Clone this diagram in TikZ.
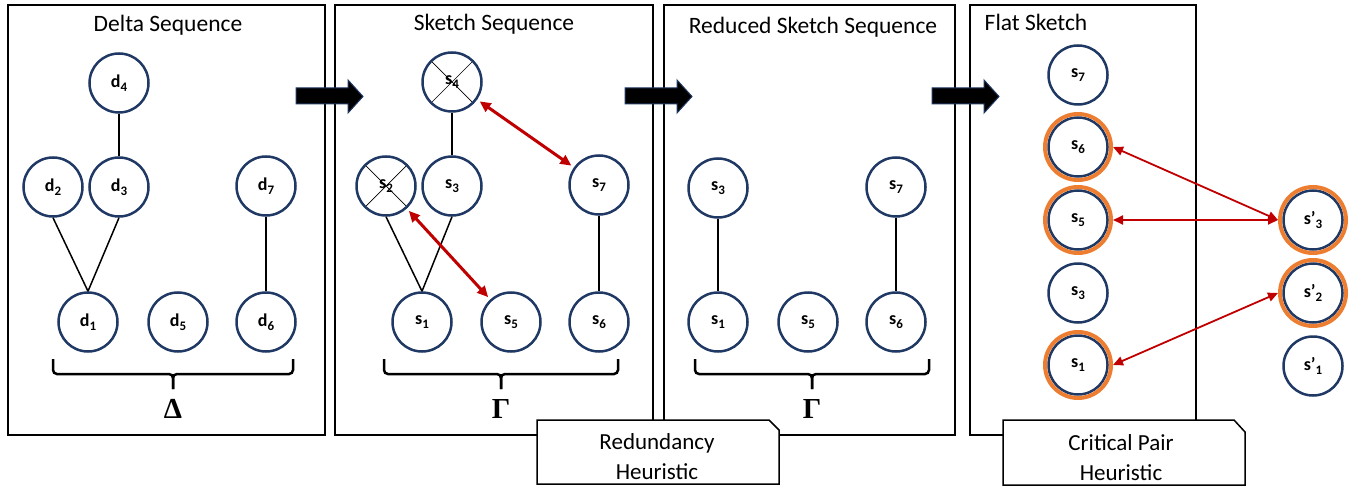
\documentclass[tikz,border=0pt]{standalone}
\usepackage{fontspec}
\usetikzlibrary{arrows.meta}
\newfontfamily\calib{Carlito}
\newfontfamily\greekserif{Liberation Serif}
\definecolor{navy}{HTML}{1F3864}
\definecolor{darkred}{HTML}{C00000}
\definecolor{ringorange}{HTML}{ED7D31}
% subscript index inside a circle label
\newcommand{\lsub}[1]{\raisebox{-4pt}{\fontsize{13}{13}\selectfont #1}}

\tikzset{
  panel/.style={draw=black, line width=1.5pt},
  nd/.style={circle, draw=navy, line width=2.5pt, minimum size=59pt, inner sep=0pt,
    fill=white, font=\calib\bfseries\fontsize{18}{18}\selectfont},
  crossed/.style={nd, path picture={
    \draw[black, line width=0.7pt]
      (path picture bounding box.north west) -- (path picture bounding box.south east)
      (path picture bounding box.north east) -- (path picture bounding box.south west);}},
  ring/.style={circle, draw=ringorange, line width=4pt, minimum size=66pt, inner sep=0pt,
    fill=white, font=\calib\bfseries\fontsize{18}{18}\selectfont,
    path picture={\draw[navy, line width=2.5pt] (path picture bounding box.center) circle (29.5pt);}},
  edge/.style={draw=black, line width=1.5pt},
  brk/.style={draw=black, line width=2.5pt, rounded corners=4pt},
  title/.style={font=\calib\fontsize{23.5}{28}\selectfont, anchor=base, inner sep=0pt},
  greek/.style={font=\greekserif\bfseries\fontsize{29}{29}\selectfont, inner sep=0pt},
  redarrow/.style={draw=darkred, line width=3pt,
    {Triangle[length=11pt,width=10pt]}-{Triangle[length=11pt,width=10pt]},
    shorten <=3pt, shorten >=3pt},
  redthin/.style={draw=darkred, line width=1.8pt,
    {Triangle[length=10pt,width=9pt]}-{Triangle[length=10pt,width=9pt]}},
  blockarrow/.style={fill=black, draw=navy, line width=1pt},
  callout/.style={draw=black, fill=white, line width=1.5pt},
  calltext/.style={font=\calib\fontsize{23}{30}\selectfont, align=center, inner sep=0pt}
}

\begin{document}
\begin{tikzpicture}[x=1pt, y=-1pt]
\useasboundingbox (0,0) rectangle (1367,489);

% four stage panels
\draw[panel] (8,5) rectangle (325,435);
\draw[panel] (335,5) rectangle (653,435);
\draw[panel] (664,5) rectangle (955,435);
\draw[panel] (970,5) rectangle (1196,435);

% panel titles
\node[title] (t1) at (168,32) {Delta Sequence};
\node[title] (t2) at (494,31) {Sketch Sequence};
\node[title] (t3) at (813,34) {Reduced Sketch Sequence};
\node[title] (t4) at (1036,31) {Flat Sketch};

% block arrows between the stages
\foreach \x in {296,625,932}{
  \draw[blockarrow] (\x,88) -- (\x+52,88) -- (\x+52,80) -- (\x+67,96.5)
    -- (\x+52,113) -- (\x+52,104) -- (\x,104) -- cycle;
}

% delta sequence
\node[nd] (d4) at (119,83) {d\lsub{4}};
\node[nd] (d2) at (53,187) {d\lsub{2}};
\node[nd] (d3) at (119,187) {d\lsub{3}};
\node[nd] (d7) at (266,186) {d\lsub{7}};
\node[nd] (d1) at (88,322) {d\lsub{1}};
\node[nd] (d5) at (178,322) {d\lsub{5}};
\node[nd] (d6) at (266,322) {d\lsub{6}};
\draw[edge] (d4) -- (d3);
\draw[edge] (d2.south) -- (d1.north);
\draw[edge] (d3.south) -- (d1.north);
\draw[edge] (d7) -- (d6);

% sketch sequence
\node[crossed] (s4) at (452,82) {s\lsub{4}};
\node[crossed] (s2) at (386,186) {s\lsub{2}};
\node[nd] (s3) at (452,186) {s\lsub{3}};
\node[nd] (s7) at (599,185) {s\lsub{7}};
\node[nd] (s1) at (422,322) {s\lsub{1}};
\node[nd] (s5) at (511,322) {s\lsub{5}};
\node[nd] (s6) at (599,322) {s\lsub{6}};
\draw[edge] (s4) -- (s3);
\draw[edge] (s2.south) -- (s1.north);
\draw[edge] (s3.south) -- (s1.north);
\draw[edge] (s7) -- (s6);
\draw[redarrow] (s4) -- (s7);
\draw[redarrow] (s2) -- (s5);

% reduced sketch sequence
\node[nd] (r3) at (718,188) {s\lsub{3}};
\node[nd] (r7) at (896,187) {s\lsub{7}};
\node[nd] (r1) at (718,322) {s\lsub{1}};
\node[nd] (r5) at (808,322) {s\lsub{5}};
\node[nd] (r6) at (896,322) {s\lsub{6}};
\draw[edge] (r3) -- (r1);
\draw[edge] (r7) -- (r6);

% flat sketch and critical pairs
\node[nd] (f7) at (1078,75) {s\lsub{7}};
\node[ring] (f6) at (1078,147) {s\lsub{6}};
\node[ring] (f5) at (1078,220) {s\lsub{5}};
\node[nd] (f3) at (1078,293) {s\lsub{3}};
\node[ring] (f1) at (1078,365) {s\lsub{1}};
\node[ring] (p3) at (1313,220) {s’\lsub{3}};
\node[ring] (p2) at (1313,293) {s’\lsub{2}};
\node[nd] (p1) at (1313,366) {s’\lsub{1}};
\draw[redthin] (f6.east) -- (p3.west);
\draw[redthin] (f5.east) -- (p3.west);
\draw[redthin] (f1.east) -- (p2.west);

% brackets under the sequences
\draw[brk] (53,359) -- (53,374) -- (173,374) -- (173,389);
\draw[brk] (293,359) -- (293,374) -- (173,374) -- (173,389);
\draw[brk] (384,359) -- (384,374) -- (501,374) -- (501,389);
\draw[brk] (618,359) -- (618,374) -- (501,374) -- (501,389);
\draw[brk] (695,359) -- (695,374) -- (812,374) -- (812,389);
\draw[brk] (929,359) -- (929,374) -- (812,374) -- (812,389);
\node[greek] (gD) at (173,409) {Δ};
\node[greek] (gG1) at (501,409) {Γ};
\node[greek] (gG2) at (812,409) {Γ};

% heuristic callouts
\draw[callout] (537,420) -- (769,420) -- (779,430) -- (779,484) -- (537,484) -- cycle;
\node[calltext] (h1) at (657,457) {Redundancy\\Heuristic};
\draw[callout] (1003,420) -- (1234,420) -- (1245,432) -- (1245,485) -- (1003,485) -- cycle;
\node[calltext] (h2) at (1121,458) {Critical Pair\\Heuristic};
\end{tikzpicture}
\end{document}
